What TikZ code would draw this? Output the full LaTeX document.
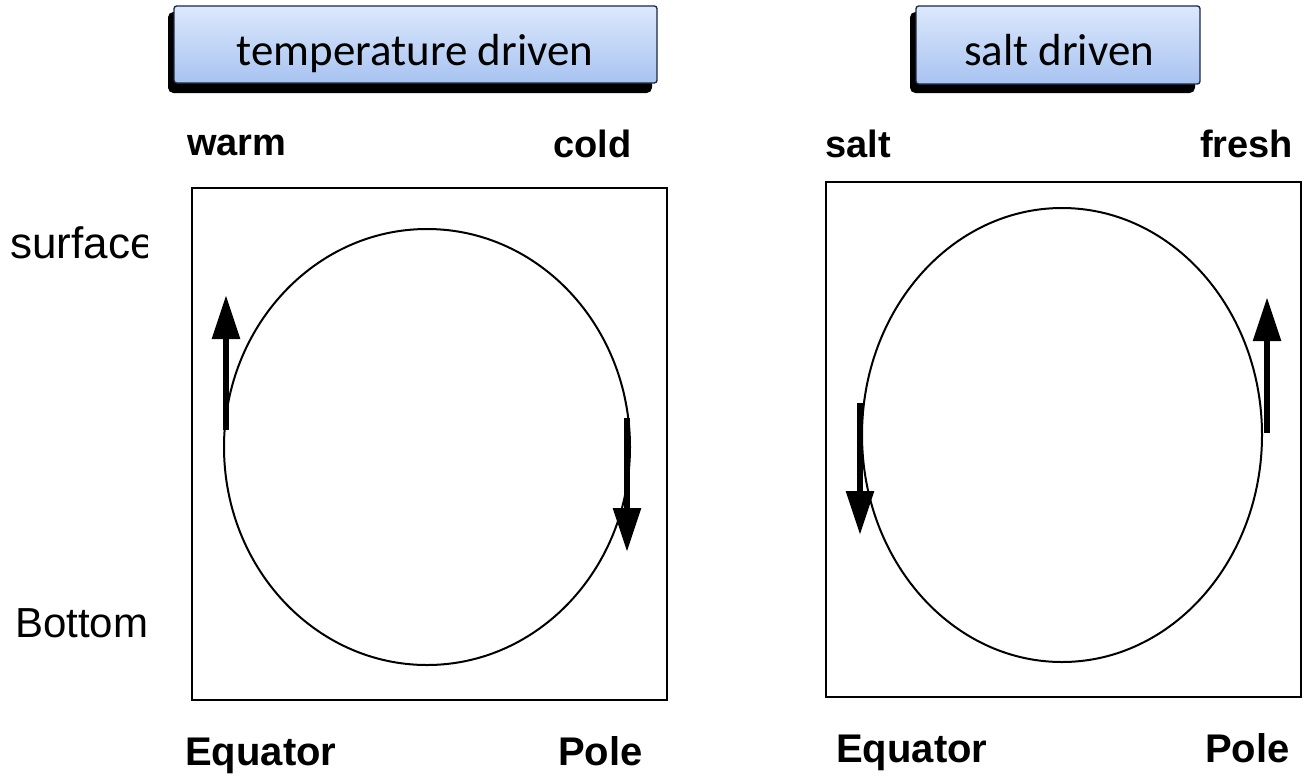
\documentclass[tikz,border=0pt]{standalone}
\usepackage{fontspec}
\setmainfont{Liberation Sans}
\newfontfamily\calib{Carlito}
\usetikzlibrary{arrows.meta}
\definecolor{boxtop}{HTML}{DCE8FC}
\definecolor{boxbot}{HTML}{A8C3F1}
\definecolor{boxline}{HTML}{1E2740}
\begin{document}
\begin{tikzpicture}[x=0.75pt,y=-0.75pt,
  frame/.style={draw=black,line width=1.7pt},
  loop/.style={draw=black,line width=1.5pt},
  flow/.style={line width=5pt,-{Triangle[length=33pt,width=20pt]}},
  lab/.style={font=\fontsize{28.5}{30}\selectfont\bfseries,inner sep=0pt,anchor=base west},
  biglab/.style={lab,font=\fontsize{30}{32}\selectfont\bfseries},
  side/.style={font=\fontsize{31.5}{33}\selectfont,inner sep=0pt,anchor=base west},
  shadowbox/.style={fill=black,rounded corners=4pt},
  titlebox/.style={draw=boxline,line width=1pt,rounded corners=2pt,top color=boxtop,bottom color=boxbot},
  titletext/.style={font=\calib\fontsize{33.7}{36}\selectfont,inner sep=0pt,anchor=base}
]
\useasboundingbox (0,0) rectangle (1312,779);

% title boxes
\fill[shadowbox] (168,12) rectangle (652,93);
\path[titlebox] (174,6) rectangle (657,83);
\node[titletext] (t1) at (415,65) {temperature driven};

\fill[shadowbox] (910,12) rectangle (1195,93);
\path[titlebox] (916,6) rectangle (1200,84);
\node[titletext] (t2) at (1059,65) {salt driven};

% side labels
\begin{scope}
\clip (0,200) rectangle (147,290);
\node[side,font=\fontsize{33}{35}\selectfont] (surf) at (10,258) {surface};
\end{scope}
\node[side] (bot) at (15,637) {Bottom};

% left panel
\draw[frame] (192,188) rectangle (667,700);
\draw[loop] (427,447) ellipse [x radius=203, y radius=218];
\draw[flow] (226,430) -- (226,295);
\draw[flow] (627,418) -- (627,552);
\node[lab] (warm) at (187,155) {warm};
\node[lab] (cold) at (553,157) {cold};
\node[biglab] (eq1) at (185,765) {Equator};
\node[biglab] (po1) at (558,765) {Pole};

% right panel
\draw[frame] (826,182) rectangle (1301,697);
\draw[loop] (1062,435) ellipse [x radius=200, y radius=227];
\draw[flow] (860,403) -- (860,535);
\draw[flow] (1267,433) -- (1267,297);
\node[lab] (salt) at (825,157) {salt};
\node[lab] (fresh) at (1200,157) {fresh};
\node[biglab] (eq2) at (836,762) {Equator};
\node[biglab] (po2) at (1205,762) {Pole};
\end{tikzpicture}
\end{document}
